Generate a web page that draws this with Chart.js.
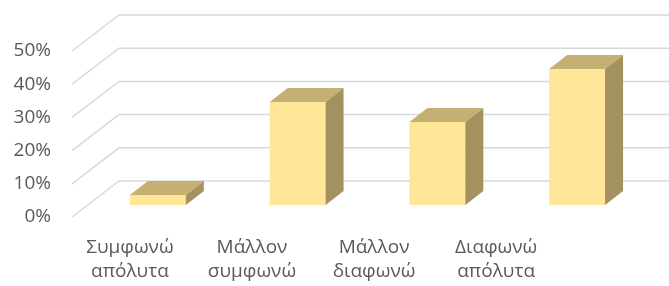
<!DOCTYPE html>
<html>
<head>
<meta charset="utf-8">
<script src="https://cdn.jsdelivr.net/npm/chart.js@4"></script>
<style>
  html, body { margin: 0; padding: 0; background: #fff; }
  #wrap { width: 669px; height: 286px; }
</style>
</head>
<body>
<div id="wrap"><canvas id="grafico"></canvas></div>
<script>
// datos del gráfico
const categorias = [['Συμφωνώ', 'απόλυτα'], ['Μάλλον', 'συμφωνώ'], ['Μάλλον', 'διαφωνώ'], ['Διαφωνώ', 'απόλυτα']];
const valores = [3, 31, 25, 41];
const ticksY = [0, 10, 20, 30, 40, 50];

const FUENTE = '"Open Sans", sans-serif';
const GRIS_TEXTO = '#595959';
const GRIS_LINEA = '#d9d9d9';

// desplazamientos de la vista 3D (plano de barras -> fondo / frente)
const FONDO = { dx: 31, dy: -24 };
const FRENTE = { dx: -16, dy: 12 };
const PROF = { dx: 18, dy: -14 };

const paredes3d = {
  id: 'paredes3d',
  beforeDatasetsDraw(chart) {
    const { ctx, chartArea, scales } = chart;
    ctx.save();
    ctx.strokeStyle = GRIS_LINEA;
    ctx.lineWidth = 1.5;
    ticksY.forEach(v => {
      const y = scales.y.getPixelForValue(v);
      ctx.beginPath();
      ctx.moveTo(chartArea.left + FRENTE.dx, y + FRENTE.dy);
      ctx.lineTo(chartArea.left + FONDO.dx, y + FONDO.dy);
      ctx.lineTo(chart.width, y + FONDO.dy);
      ctx.stroke();
    });
    ctx.restore();
  },
  afterDatasetsDraw(chart) {
    const { ctx } = chart;
    const meta = chart.getDatasetMeta(0);
    ctx.save();
    meta.data.forEach(bar => {
      const { x, y, base, width } = bar.getProps(['x', 'y', 'base', 'width'], true);
      const l = x - width / 2, r = x + width / 2;
      // cara superior
      ctx.fillStyle = '#c4b073';
      ctx.beginPath();
      ctx.moveTo(l, y);
      ctx.lineTo(l + PROF.dx, y + PROF.dy);
      ctx.lineTo(r + PROF.dx, y + PROF.dy);
      ctx.lineTo(r, y);
      ctx.closePath();
      ctx.fill();
      // cara lateral
      ctx.fillStyle = '#a39260';
      ctx.beginPath();
      ctx.moveTo(r, y);
      ctx.lineTo(r + PROF.dx, y + PROF.dy);
      ctx.lineTo(r + PROF.dx, base + PROF.dy);
      ctx.lineTo(r, base);
      ctx.closePath();
      ctx.fill();
    });
    ctx.restore();
  },
  afterDraw(chart) {
    // etiquetas de categorías en el plano frontal
    const { ctx, scales } = chart;
    ctx.save();
    ctx.fillStyle = GRIS_TEXTO;
    ctx.font = '19px ' + FUENTE;
    ctx.textAlign = 'center';
    ctx.textBaseline = 'middle';
    categorias.forEach((lineas, i) => {
      const px = scales.x.getPixelForValue(i);
      const lx = px * 0.8735 - 8;
      lineas.forEach((t, j) => ctx.fillText(t, lx, 248 + j * 24));
    });
    ctx.restore();
  }
};

new Chart(document.getElementById('grafico'), {
  type: 'bar',
  data: {
    labels: categorias,
    datasets: [{
      data: valores,
      backgroundColor: '#ffe699',
      borderWidth: 0,
      barPercentage: 0.4,
      categoryPercentage: 1
    }]
  },
  options: {
    responsive: true,
    maintainAspectRatio: false,
    animation: false,
    layout: { padding: { top: 39, bottom: 81, right: 22, left: 0 } },
    plugins: {
      legend: { display: false },
      tooltip: { enabled: false }
    },
    scales: {
      x: { display: false },
      y: {
        min: 0,
        max: 50,
        afterFit: s => {
          s.width = 88;
          s.paddingTop = 0;
          s.paddingBottom = 0;
        },
        afterBuildTicks: s => { s.ticks = ticksY.map(v => ({ value: v })); },
        grid: { display: false, drawTicks: false },
        border: { display: false },
        ticks: {
          padding: 37,
          labelOffset: 12,
          color: GRIS_TEXTO,
          font: { family: FUENTE, size: 19 },
          callback: v => v + '%'
        }
      }
    }
  },
  plugins: [paredes3d]
});
</script>
</body>
</html>
